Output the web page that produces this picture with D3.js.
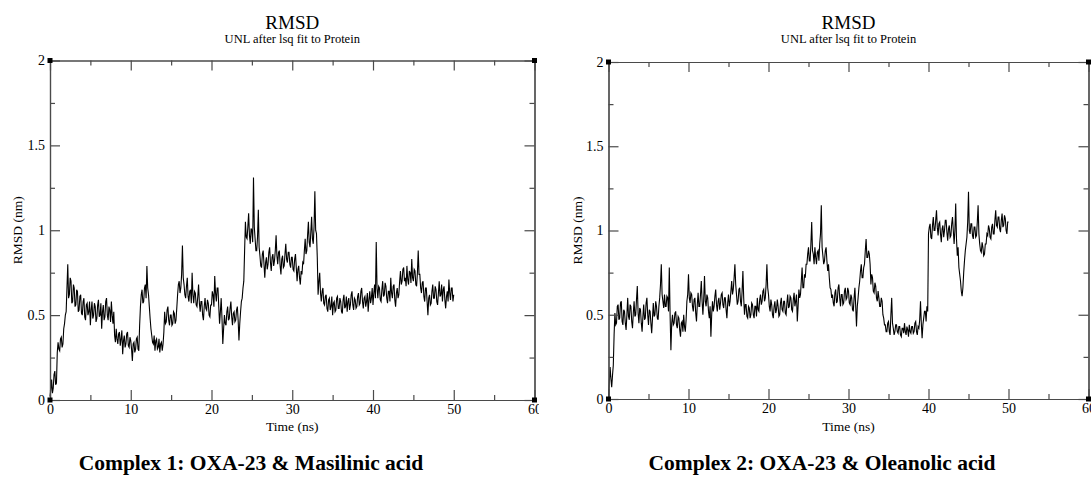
<!DOCTYPE html>
<html>
<head>
<meta charset="utf-8">
<script src="https://cdn.jsdelivr.net/npm/d3@7"></script>
<style>
  html, body { margin: 0; padding: 0; background: #fff; }
  svg { display: block; }
  text { font-family: "Liberation Serif", "Times New Roman", serif; fill: #000; }
</style>
</head>
<body>
<svg id="chart" width="1091" height="479"></svg>
<script>
// ---------------- DATA ----------------
const timeStep = 0.1; // ns between samples
const xTicks = [0, 10, 20, 30, 40, 50, 60];
const xTickLabels = ["0", "10", "20", "30", "40", "50", "60"];
const yTicks = [0, 0.5, 1, 1.5, 2];
const yTickLabels = ["0", "0.5", "1", "1.5", "2"];
const titleText = "RMSD";
const subtitleText = "UNL after lsq fit to Protein";
const xLabel = "Time (ns)";
const yLabel = "RMSD (nm)";
const captions = ["Complex 1: OXA-23 & Masilinic acid", "Complex 2: OXA-23 & Oleanolic acid"];

// Complex 1 RMSD (nm), one value every 0.1 ns from 0 to 50 ns (20 values per row = 2 ns)
const rmsdComplex1 = [
  0.02, 0.06, 0.12, 0.04, 0.07, 0.15, 0.17, 0.09, 0.10, 0.28, 0.34, 0.30, 0.29, 0.36, 0.37, 0.31, 0.33, 0.42, 0.45, 0.50,
  0.52, 0.66, 0.80, 0.60, 0.62, 0.72, 0.70, 0.57, 0.58, 0.68, 0.66, 0.55, 0.56, 0.65, 0.64, 0.52, 0.53, 0.61, 0.62, 0.51,
  0.50, 0.58, 0.60, 0.49, 0.47, 0.56, 0.57, 0.50, 0.52, 0.58, 0.44, 0.53, 0.58, 0.48, 0.50, 0.57, 0.55, 0.46, 0.48, 0.56,
  0.59, 0.49, 0.50, 0.57, 0.42, 0.52, 0.56, 0.47, 0.49, 0.58, 0.60, 0.50, 0.47, 0.55, 0.53, 0.46, 0.58, 0.50, 0.45, 0.52,
  0.38, 0.34, 0.42, 0.36, 0.33, 0.39, 0.40, 0.32, 0.36, 0.41, 0.27, 0.35, 0.38, 0.31, 0.33, 0.39, 0.40, 0.32, 0.31, 0.37,
  0.35, 0.30, 0.23, 0.33, 0.34, 0.28, 0.30, 0.36, 0.37, 0.30, 0.29, 0.44, 0.55, 0.62, 0.65, 0.57, 0.58, 0.66, 0.68, 0.60,
  0.79, 0.66, 0.62, 0.55, 0.48, 0.42, 0.38, 0.34, 0.33, 0.38, 0.29, 0.35, 0.36, 0.30, 0.31, 0.36, 0.28, 0.33, 0.34, 0.29,
  0.33, 0.40, 0.52, 0.45, 0.46, 0.53, 0.55, 0.47, 0.44, 0.50, 0.50, 0.44, 0.45, 0.52, 0.51, 0.45, 0.47, 0.54, 0.62, 0.68,
  0.70, 0.63, 0.66, 0.74, 0.91, 0.72, 0.68, 0.62, 0.60, 0.67, 0.72, 0.61, 0.58, 0.64, 0.65, 0.57, 0.75, 0.62, 0.57, 0.64,
  0.63, 0.56, 0.55, 0.61, 0.68, 0.57, 0.52, 0.58, 0.58, 0.50, 0.47, 0.55, 0.60, 0.54, 0.53, 0.59, 0.57, 0.50, 0.49, 0.56,
  0.56, 0.64, 0.62, 0.55, 0.73, 0.63, 0.58, 0.66, 0.66, 0.55, 0.45, 0.52, 0.60, 0.48, 0.33, 0.42, 0.50, 0.45, 0.44, 0.52,
  0.55, 0.47, 0.48, 0.54, 0.58, 0.49, 0.44, 0.51, 0.52, 0.46, 0.47, 0.53, 0.55, 0.47, 0.35, 0.45, 0.52, 0.58, 0.60, 0.66,
  0.70, 0.88, 1.05, 0.96, 0.95, 1.02, 1.10, 0.97, 0.92, 1.01, 1.00, 0.93, 1.31, 1.02, 0.95, 0.88, 0.88, 0.96, 1.12, 0.90,
  0.85, 0.79, 0.78, 0.86, 0.88, 0.80, 0.72, 0.81, 0.84, 0.77, 0.80, 0.87, 0.90, 0.81, 0.76, 0.84, 0.86, 0.79, 0.82, 0.88,
  0.97, 0.85, 0.80, 0.87, 0.88, 0.79, 0.74, 0.83, 0.85, 0.78, 0.79, 0.86, 0.92, 0.83, 0.81, 0.87, 0.87, 0.80, 0.78, 0.84,
  0.84, 0.77, 0.76, 0.83, 0.86, 0.78, 0.70, 0.77, 0.79, 0.72, 0.68, 0.76, 0.74, 0.81, 0.80, 0.88, 0.95, 0.86, 0.88, 0.97,
  1.05, 0.93, 0.90, 0.99, 1.08, 0.95, 0.92, 1.02, 1.23, 1.00, 0.98, 0.84, 0.62, 0.70, 0.75, 0.63, 0.58, 0.64, 0.66, 0.57,
  0.56, 0.61, 0.62, 0.54, 0.52, 0.59, 0.60, 0.53, 0.55, 0.61, 0.50, 0.57, 0.58, 0.52, 0.53, 0.60, 0.61, 0.54, 0.54, 0.60,
  0.58, 0.52, 0.51, 0.59, 0.62, 0.54, 0.55, 0.61, 0.52, 0.58, 0.60, 0.53, 0.56, 0.62, 0.64, 0.56, 0.53, 0.60, 0.59, 0.54,
  0.55, 0.61, 0.63, 0.56, 0.57, 0.64, 0.66, 0.58, 0.54, 0.60, 0.61, 0.55, 0.58, 0.63, 0.52, 0.59, 0.64, 0.57, 0.60, 0.66,
  0.56, 0.63, 0.68, 0.60, 0.93, 0.66, 0.60, 0.67, 0.66, 0.59, 0.58, 0.65, 0.70, 0.61, 0.62, 0.69, 0.67, 0.60, 0.57, 0.64,
  0.64, 0.58, 0.72, 0.63, 0.60, 0.67, 0.68, 0.59, 0.55, 0.63, 0.66, 0.60, 0.62, 0.70, 0.76, 0.68, 0.70, 0.77, 0.78, 0.70,
  0.72, 0.67, 0.79, 0.71, 0.68, 0.76, 0.75, 0.69, 0.83, 0.72, 0.70, 0.77, 0.76, 0.68, 0.67, 0.75, 0.88, 0.74, 0.74, 0.66,
  0.63, 0.69, 0.70, 0.61, 0.58, 0.66, 0.66, 0.58, 0.50, 0.60, 0.62, 0.56, 0.57, 0.64, 0.68, 0.60, 0.60, 0.67, 0.65, 0.58,
  0.56, 0.63, 0.70, 0.61, 0.62, 0.68, 0.58, 0.65, 0.67, 0.59, 0.54, 0.61, 0.64, 0.58, 0.71, 0.63, 0.59, 0.66, 0.66, 0.58,
  0.62
];

// Complex 2 RMSD (nm), one value every 0.1 ns from 0 to 50 ns (20 values per row = 2 ns)
const rmsdComplex2 = [
  0.01, 0.10, 0.19, 0.12, 0.07, 0.14, 0.20, 0.38, 0.51, 0.44, 0.45, 0.55, 0.56, 0.47, 0.48, 0.57, 0.58, 0.46, 0.44, 0.53,
  0.52, 0.45, 0.41, 0.50, 0.60, 0.49, 0.47, 0.56, 0.55, 0.46, 0.42, 0.51, 0.58, 0.49, 0.50, 0.59, 0.67, 0.51, 0.45, 0.54,
  0.53, 0.45, 0.40, 0.49, 0.56, 0.47, 0.48, 0.57, 0.60, 0.50, 0.44, 0.53, 0.52, 0.45, 0.39, 0.48, 0.57, 0.49, 0.50, 0.58,
  0.55, 0.48, 0.47, 0.55, 0.60, 0.68, 0.80, 0.62, 0.58, 0.54, 0.62, 0.55, 0.55, 0.61, 0.60, 0.52, 0.78, 0.50, 0.29, 0.45,
  0.50, 0.44, 0.45, 0.51, 0.52, 0.44, 0.42, 0.49, 0.48, 0.41, 0.37, 0.45, 0.46, 0.40, 0.50, 0.43, 0.40, 0.47, 0.58, 0.62,
  0.74, 0.60, 0.57, 0.63, 0.62, 0.55, 0.52, 0.59, 0.60, 0.51, 0.46, 0.56, 0.63, 0.55, 0.55, 0.62, 0.70, 0.58, 0.50, 0.59,
  0.73, 0.58, 0.55, 0.62, 0.60, 0.52, 0.48, 0.55, 0.37, 0.50, 0.58, 0.52, 0.55, 0.61, 0.65, 0.56, 0.52, 0.58, 0.60, 0.53,
  0.57, 0.62, 0.63, 0.56, 0.54, 0.60, 0.60, 0.53, 0.48, 0.57, 0.62, 0.55, 0.58, 0.64, 0.70, 0.62, 0.65, 0.72, 0.80, 0.68,
  0.62, 0.56, 0.58, 0.65, 0.66, 0.58, 0.55, 0.64, 0.76, 0.60, 0.50, 0.56, 0.56, 0.49, 0.48, 0.55, 0.54, 0.48, 0.50, 0.57,
  0.56, 0.50, 0.48, 0.55, 0.55, 0.49, 0.60, 0.53, 0.52, 0.59, 0.62, 0.56, 0.58, 0.64, 0.65, 0.58, 0.60, 0.68, 0.80, 0.66,
  0.62, 0.55, 0.52, 0.59, 0.56, 0.50, 0.48, 0.55, 0.58, 0.51, 0.53, 0.59, 0.55, 0.49, 0.50, 0.57, 0.60, 0.53, 0.52, 0.58,
  0.58, 0.51, 0.50, 0.57, 0.62, 0.54, 0.55, 0.61, 0.60, 0.53, 0.52, 0.59, 0.63, 0.55, 0.58, 0.62, 0.46, 0.55, 0.65, 0.60,
  0.62, 0.70, 0.78, 0.66, 0.66, 0.74, 0.72, 0.80, 0.80, 0.86, 0.90, 0.82, 0.82, 0.92, 1.05, 0.88, 0.86, 0.80, 0.90, 0.84,
  0.80, 0.87, 0.88, 0.82, 0.92, 0.98, 1.15, 0.90, 0.85, 0.80, 0.82, 0.88, 0.90, 0.82, 0.76, 0.80, 0.72, 0.66, 0.65, 0.60,
  0.62, 0.57, 0.55, 0.63, 0.65, 0.57, 0.58, 0.66, 0.68, 0.60, 0.55, 0.62, 0.62, 0.56, 0.57, 0.64, 0.66, 0.59, 0.60, 0.66,
  0.64, 0.57, 0.56, 0.62, 0.60, 0.53, 0.52, 0.60, 0.66, 0.55, 0.43, 0.55, 0.60, 0.66, 0.70, 0.76, 0.80, 0.72, 0.72, 0.78,
  0.80, 0.88, 0.95, 0.84, 0.84, 0.88, 0.86, 0.80, 0.68, 0.74, 0.72, 0.64, 0.63, 0.69, 0.67, 0.60, 0.58, 0.64, 0.60, 0.55,
  0.55, 0.60, 0.58, 0.50, 0.48, 0.44, 0.44, 0.40, 0.40, 0.45, 0.46, 0.40, 0.38, 0.50, 0.60, 0.45, 0.42, 0.38, 0.40, 0.44,
  0.44, 0.40, 0.39, 0.43, 0.43, 0.38, 0.37, 0.42, 0.42, 0.39, 0.45, 0.40, 0.38, 0.43, 0.41, 0.37, 0.44, 0.40, 0.39, 0.43,
  0.43, 0.39, 0.40, 0.45, 0.46, 0.40, 0.38, 0.43, 0.42, 0.47, 0.58, 0.45, 0.36, 0.44, 0.48, 0.52, 0.52, 0.46, 0.55, 0.52,
  0.98, 1.02, 1.04, 0.96, 0.95, 1.03, 1.08, 1.00, 1.00, 1.06, 1.12, 1.02, 0.97, 1.04, 1.05, 0.98, 0.93, 1.01, 1.03, 0.96,
  1.00, 1.06, 1.06, 0.99, 0.94, 1.01, 1.03, 0.96, 0.97, 1.04, 1.08, 1.00, 0.92, 1.00, 1.16, 0.95, 0.85, 0.90, 0.78, 0.74,
  0.70, 0.64, 0.61, 0.66, 0.75, 0.82, 0.88, 0.92, 0.96, 1.05, 1.23, 1.00, 0.98, 1.04, 1.04, 0.97, 0.95, 1.02, 1.02, 0.96,
  0.97, 1.05, 1.15, 0.98, 0.92, 0.88, 0.87, 0.93, 0.90, 0.85, 0.86, 0.92, 0.92, 0.98, 0.97, 1.03, 1.01, 0.96, 0.95, 1.02,
  1.04, 0.98, 0.98, 1.06, 1.12, 1.03, 1.02, 1.08, 1.08, 1.01, 0.99, 1.06, 1.10, 1.02, 1.03, 1.09, 1.07, 1.00, 0.98, 1.05,
  1.05
];

// ---------------- DRAWING ----------------
const serif = "'Liberation Serif', 'Times New Roman', serif";
const svg = d3.select("#chart").attr("font-family", serif);
const defs = svg.append("defs");
defs.append("clipPath").attr("id", "clipLeft")
  .append("rect").attr("x", 0).attr("y", 0).attr("width", 539).attr("height", 479);

const panels = [
  { series: rmsdComplex1, caption: captions[0], x0: 50, x1: 534.5, yTop: 60.5, yBot: 400, yLabX: 17, capX: 251, clip: "url(#clipLeft)" },
  { series: rmsdComplex2, caption: captions[1], x0: 608.5, x1: 1088.5, yTop: 62, yBot: 399, yLabX: 577, capX: 822, clip: null }
];

const frameColor = "#4a4a4a";

panels.forEach(p => {
  const g = svg.append("g");
  if (p.clip) g.attr("clip-path", p.clip);

  const x = d3.scaleLinear().domain([0, 60]).range([p.x0, p.x1]);
  const y = d3.scaleLinear().domain([0, 2]).range([p.yBot, p.yTop]);
  const cx = (p.x0 + p.x1) / 2;

  // data line
  const line = d3.line().x((d, i) => x(i * timeStep)).y(d => y(d));
  g.append("path").datum(p.series)
    .attr("d", line)
    .attr("fill", "none")
    .attr("stroke", "#000")
    .attr("stroke-width", 1.1)
    .attr("stroke-linejoin", "miter");

  // axes with inward ticks (major + minor) on all four sides
  const minorX = [5, 15, 25, 35, 45, 55];
  const minorY = [0.25, 0.75, 1.25, 1.75];
  const majorLen = 10, minorLen = 5;

  const bottom = d3.axisBottom(x).tickValues(xTicks).tickSizeInner(-majorLen).tickSizeOuter(0)
    .tickPadding(4).tickFormat((d, i) => xTickLabels[i]);
  const bottomMinor = d3.axisBottom(x).tickValues(minorX).tickSizeInner(-minorLen).tickSizeOuter(0).tickFormat("");
  const top = d3.axisTop(x).tickValues(xTicks).tickSizeInner(-majorLen).tickSizeOuter(0).tickFormat("");
  const topMinor = d3.axisTop(x).tickValues(minorX).tickSizeInner(-minorLen).tickSizeOuter(0).tickFormat("");
  const left = d3.axisLeft(y).tickValues(yTicks).tickSizeInner(-majorLen).tickSizeOuter(0)
    .tickPadding(5).tickFormat((d, i) => yTickLabels[i]);
  const leftMinor = d3.axisLeft(y).tickValues(minorY).tickSizeInner(-minorLen).tickSizeOuter(0).tickFormat("");
  const right = d3.axisRight(y).tickValues(yTicks).tickSizeInner(-majorLen).tickSizeOuter(0).tickFormat("");
  const rightMinor = d3.axisRight(y).tickValues(minorY).tickSizeInner(-minorLen).tickSizeOuter(0).tickFormat("");

  const axes = [
    [bottom, `translate(0,${p.yBot})`], [bottomMinor, `translate(0,${p.yBot})`],
    [top, `translate(0,${p.yTop})`], [topMinor, `translate(0,${p.yTop})`],
    [left, `translate(${p.x0},0)`], [leftMinor, `translate(${p.x0},0)`],
    [right, `translate(${p.x1},0)`], [rightMinor, `translate(${p.x1},0)`]
  ];
  axes.forEach(([ax, tr]) => {
    const a = g.append("g").attr("transform", tr).call(ax).attr("font-family", serif);
    a.selectAll("path.domain").attr("stroke", frameColor).attr("stroke-width", 1.2);
    a.selectAll(".tick line").attr("stroke", frameColor).attr("stroke-width", 1.2);
    a.selectAll(".tick text").attr("font-family", serif).attr("font-size", 14).attr("fill", "#000");
  });

  // corner squares
  [[0, 0], [0, 2], [60, 0], [60, 2]].forEach(([cxv, cyv]) => {
    g.append("rect")
      .attr("x", x(cxv) - 2.5).attr("y", y(cyv) - 2.5)
      .attr("width", 5).attr("height", 5).attr("fill", "#000");
  });

  // titles
  g.append("text").attr("x", cx).attr("y", 29).attr("text-anchor", "middle")
    .attr("font-family", serif).attr("font-size", 19).text(titleText);
  g.append("text").attr("x", cx).attr("y", 42.5).attr("text-anchor", "middle")
    .attr("font-family", serif).attr("font-size", 12.5).text(subtitleText);

  // axis labels
  g.append("text").attr("x", cx).attr("y", 431).attr("text-anchor", "middle")
    .attr("font-family", serif).attr("font-size", 13.5).text(xLabel);
  g.append("text")
    .attr("transform", `translate(${p.yLabX + 4.5},${(p.yTop + p.yBot) / 2}) rotate(-90)`)
    .attr("text-anchor", "middle").attr("font-family", serif).attr("font-size", 13.5).text(yLabel);

  // caption
  svg.append("text").attr("x", p.capX).attr("y", 470).attr("text-anchor", "middle")
    .attr("font-family", serif).attr("font-size", 21.5).attr("font-weight", "bold").text(p.caption);
});
</script>
</body>
</html>
